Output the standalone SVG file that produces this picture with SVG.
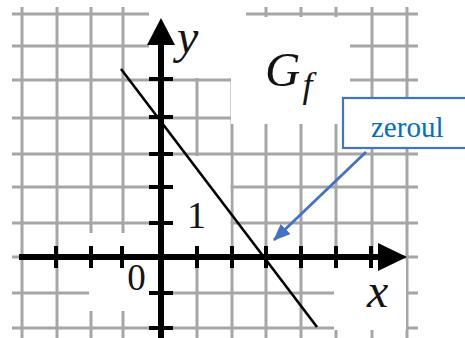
<svg xmlns="http://www.w3.org/2000/svg" width="465" height="338" viewBox="0 0 465 338">
  <defs>
    <style>
      .grid line { stroke: #A6A6A6; stroke-width: 3; }
      .patch { fill: #FFFFFF; }
      .axis { stroke: #000; stroke-width: 6; }
      .tick { stroke: #000; stroke-width: 4; }
      .lbl { font-family: "Liberation Serif", "Times New Roman", serif; fill: #141414; }
      .it { font-style: italic; }
      .callout-box { fill: #FFFFFF; stroke: #4472C4; stroke-width: 2.2; }
      .callout-text { font-family: "Liberation Serif", "Times New Roman", serif; font-size: 29px; fill: #0070C0; }
      .callout-line { stroke: #4472C4; stroke-width: 2.8; fill: none; }
    </style>
    <marker id="blueArrow" markerUnits="userSpaceOnUse" markerWidth="18" markerHeight="14" refX="16" refY="7" orient="auto">
      <path d="M0,0 L17,7 L0,14 Z" fill="#4472C4"/>
    </marker>
  </defs>
  <rect width="465" height="338" fill="#FFFFFF"/>

  <g id="grid" class="grid">
    <line x1="22" y1="7" x2="22" y2="338"/>
    <line x1="57" y1="7" x2="57" y2="338"/>
    <line x1="91" y1="7" x2="91" y2="338"/>
    <line x1="123" y1="7" x2="123" y2="338"/>
    <line x1="197" y1="7" x2="197" y2="338"/>
    <line x1="232" y1="7" x2="232" y2="338"/>
    <line x1="266" y1="7" x2="266" y2="338"/>
    <line x1="301" y1="7" x2="301" y2="338"/>
    <line x1="336" y1="7" x2="336" y2="338"/>
    <line x1="372" y1="7" x2="372" y2="338"/>
    <line x1="407" y1="7" x2="407" y2="338"/>
    <line x1="12" y1="14" x2="418" y2="14"/>
    <line x1="12" y1="46" x2="418" y2="46"/>
    <line x1="12" y1="80" x2="418" y2="80"/>
    <line x1="12" y1="118" x2="418" y2="118"/>
    <line x1="12" y1="154" x2="418" y2="154"/>
    <line x1="12" y1="187" x2="418" y2="187"/>
    <line x1="12" y1="223" x2="418" y2="223"/>
    <line x1="12" y1="257" x2="418" y2="257"/>
    <line x1="12" y1="293" x2="418" y2="293"/>
    <line x1="12" y1="328" x2="418" y2="328"/>
  </g>

  <g id="label-backgrounds">
    <rect class="patch" x="149" y="0" width="97" height="78"/>
    <rect class="patch" x="231" y="17" width="119" height="107"/>
    <rect class="patch" x="89" y="233" width="70" height="78"/>
    <rect class="patch" x="163" y="156" width="67.5" height="99"/>
    <rect class="patch" x="334" y="260" width="72" height="70"/>
  </g>

  <g id="axes">
    <line class="axis" x1="19" y1="257" x2="380" y2="257"/>
    <polygon points="378,243 407,257 378,271" fill="#000"/>
    <line class="axis" x1="161" y1="338" x2="161" y2="43"/>
    <polygon points="147,45 161,18 175,45" fill="#000"/>
    <g id="y-ticks">
      <line class="tick" x1="149" y1="79" x2="173" y2="79"/>
      <line class="tick" x1="149" y1="117" x2="173" y2="117"/>
      <line class="tick" x1="149" y1="154" x2="173" y2="154"/>
      <line class="tick" x1="149" y1="187" x2="173" y2="187"/>
      <line class="tick" x1="149" y1="223" x2="173" y2="223"/>
      <line class="tick" x1="149" y1="293" x2="173" y2="293"/>
      <line class="tick" x1="149" y1="328" x2="173" y2="328"/>
    </g>
    <g id="x-ticks">
      <line class="tick" x1="56" y1="246" x2="56" y2="268"/>
      <line class="tick" x1="91" y1="246" x2="91" y2="268"/>
      <line class="tick" x1="122" y1="246" x2="122" y2="268"/>
      <line class="tick" x1="197" y1="246" x2="197" y2="268"/>
      <line class="tick" x1="232" y1="246" x2="232" y2="268"/>
      <line class="tick" x1="266" y1="246" x2="266" y2="268"/>
      <line class="tick" x1="301" y1="246" x2="301" y2="268"/>
      <line class="tick" x1="336" y1="246" x2="336" y2="268"/>
      <line class="tick" x1="371" y1="246" x2="371" y2="268"/>
    </g>
  </g>

  <g id="graph-line">
    <line x1="121" y1="69" x2="317" y2="327" stroke="#000" stroke-width="2.6"/>
  </g>

  <g id="labels">
    <text class="lbl it" x="177" y="53" font-size="48">y</text>
    <text class="lbl it" x="367" y="307" font-size="48">x</text>
    <text class="lbl" x="196.5" y="228" font-size="38" text-anchor="middle">1</text>
    <text class="lbl" x="136.5" y="290" font-size="37" text-anchor="middle">0</text>
    <text class="lbl it" x="265" y="86" font-size="49">G<tspan font-size="36" dx="2" dy="11">f</tspan></text>
  </g>

  <g id="connectors">
    <line class="callout-line" x1="366" y1="152" x2="274" y2="240" marker-end="url(#blueArrow)"/>
  </g>

  <g id="callout-zeroul">
    <rect class="callout-box" x="343" y="98" width="130" height="50"/>
    <text class="callout-text" x="371" y="137">zeroul</text>
  </g>
</svg>
